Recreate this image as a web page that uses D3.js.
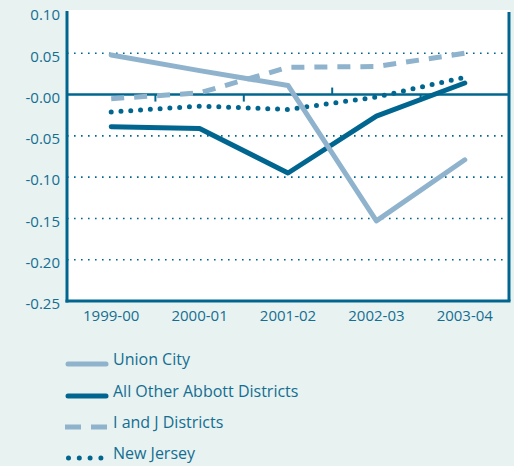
<!DOCTYPE html>
<html><head><meta charset="utf-8">
<script src="https://cdn.jsdelivr.net/npm/d3@7"></script>
<style>
html,body{margin:0;padding:0;background:#e8f2f1;}
svg{display:block;}
text{font-family:"Open Sans","Noto Sans",sans-serif;fill:#136e92;}
</style></head>
<body>
<svg id="c" width="514" height="466"></svg>
<script>
const categories = ["1999-00","2000-01","2001-02","2002-03","2003-04"];
const yTicks = [0.10,0.05,0.00,-0.05,-0.10,-0.15,-0.20,-0.25];
const yTickLabels = ["0.10","0.05","-0.00","-0.05","-0.10","-0.15","-0.20","-0.25"];
const seriesNames = ["Union City","All Other Abbott Districts","I and J Districts","New Jersey"];
const unionCity = [0.048, 0.029, 0.011, -0.153, -0.079];
const allOtherAbbott = [-0.039, -0.041, -0.095, -0.026, 0.014];
const iAndJ = [-0.005, 0.002, 0.033, 0.034, 0.050];
const newJersey = [-0.021, -0.014, -0.018, -0.003, 0.021];

const dark = "#00668f", light = "#8fb3cd";
const svg = d3.select("#c");
const L = 67, R = 509, T = 12, B = 301;

svg.append("rect").attr("x", L).attr("y", 10).attr("width", R - L + 1).attr("height", B - 10).attr("fill", "#ffffff");

const x = d3.scaleBand().domain(categories).range([L, R]);
const y = d3.scaleLinear().domain([-0.25, 0.10]).range([B, T]);

// gridlines (dotted)
[0.05, -0.05, -0.10, -0.15, -0.20].forEach(v => {
  svg.append("line").attr("x1", L).attr("x2", R).attr("y1", y(v)).attr("y2", y(v))
    .attr("stroke", dark).attr("stroke-width", 1.6).attr("stroke-dasharray", "1.6,5.4");
});

// zero line
svg.append("line").attr("x1", L).attr("x2", R).attr("y1", y(0)).attr("y2", y(0))
  .attr("stroke", dark).attr("stroke-width", 2.5);
// ticks at band boundaries on zero line
categories.slice(1).forEach((c, i) => {
  const xx = x(c);
  const up = (i === 2);
  svg.append("line").attr("x1", xx).attr("x2", xx)
    .attr("y1", y(0)).attr("y2", y(0) + (up ? -7 : 7))
    .attr("stroke", dark).attr("stroke-width", 2);
});

// y labels
yTicks.forEach((v, i) => {
  svg.append("text").attr("x", 60).attr("y", y(v) + 3).attr("dy", "0.35em")
    .attr("text-anchor", "end").attr("font-size", 15).text(yTickLabels[i]);
});
// x labels
categories.forEach(c => {
  svg.append("text").attr("x", x(c) + x.bandwidth() / 2).attr("y", 321)
    .attr("text-anchor", "middle").attr("font-size", 15).text(c);
});

const line = d3.line().x((d, i) => x(categories[i]) + x.bandwidth() / 2).y(d => y(d));
const styles = [
  {data: unionCity, color: light, w: 5, dash: null, cap: "round"},
  {data: allOtherAbbott, color: dark, w: 5, dash: null, cap: "round"},
  {data: iAndJ, color: light, w: 5, dash: "13,10", cap: "butt"},
  {data: newJersey, color: dark, w: 5, dash: "0,9.8", cap: "round"}
];
[2, 3, 1, 0].forEach(k => {
  const s = styles[k];
  const p = svg.append("path").attr("d", line(s.data)).attr("fill", "none")
    .attr("stroke", s.color).attr("stroke-width", s.w).attr("stroke-linecap", s.cap)
    .attr("stroke-linejoin", "round");
  if (s.dash) p.attr("stroke-dasharray", s.dash);
});

// axes frame
svg.append("line").attr("x1", L).attr("x2", L).attr("y1", T - 1).attr("y2", B + 1.5)
  .attr("stroke", dark).attr("stroke-width", 3);
svg.append("line").attr("x1", L - 1.5).attr("x2", R + 1.5).attr("y1", B).attr("y2", B)
  .attr("stroke", dark).attr("stroke-width", 3);
svg.append("line").attr("x1", R).attr("x2", R).attr("y1", T).attr("y2", B)
  .attr("stroke", dark).attr("stroke-width", 3);

// legend
const ly = [364, 396, 427, 458];
styles.forEach((s, i) => {
  const g = svg.append("line").attr("x1", 68).attr("x2", 106).attr("y1", ly[i]).attr("y2", ly[i])
    .attr("stroke", s.color).attr("stroke-width", 5).attr("stroke-linecap", s.cap);
  if (i === 2) g.attr("x1", 65).attr("x2", 108).attr("stroke-dasharray", "16,10").attr("stroke-linecap", "butt");
  if (i === 3) g.attr("x1", 68.5).attr("x2", 110).attr("stroke-dasharray", "0,10.8");
  svg.append("text").attr("x", 113).attr("y", ly[i]).attr("dy", "0.05em")
    .attr("font-size", 16).text(seriesNames[i]);
});
</script>
</body></html>
